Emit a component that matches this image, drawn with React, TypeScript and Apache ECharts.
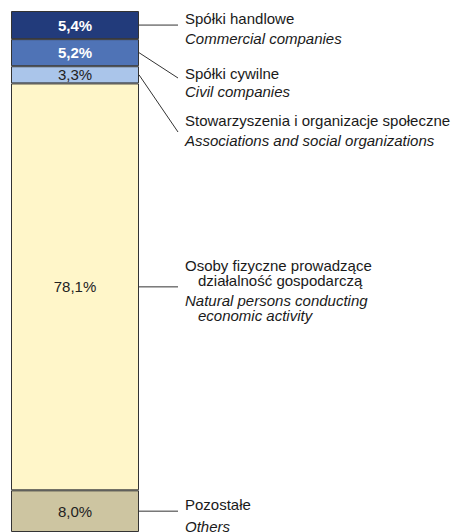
import React, { useEffect, useRef } from "react";
import * as echarts from "echarts";

const categoriesPL: string[][] = [
  ["Spółki handlowe"],
  ["Spółki cywilne"],
  ["Stowarzyszenia i organizacje społeczne"],
  ["Osoby fizyczne prowadzące", "działalność gospodarczą"],
  ["Pozostałe"],
];
const categoriesEN: string[][] = [
  ["Commercial companies"],
  ["Civil companies"],
  ["Associations and social organizations"],
  ["Natural persons conducting", "economic activity"],
  ["Others"],
];
const values = [5.4, 5.2, 3.3, 78.1, 8.0];

const colors = ["#223b7b", "#4f73b6", "#aac5ea", "#fff6c9", "#cdc5a1"];
const labelColors = ["#ffffff", "#ffffff", "#222222", "#222222", "#222222"];
const labelWeights = ["bold", "bold", "normal", "normal", "normal"];

// layout (pixels)
const GRID_LEFT = 11;
const GRID_WIDTH = 128;
const GRID_TOP = 11;
const GRID_HEIGHT = 524;
const TEXT_X = 185;
const INDENT_X = 198;
const LINE_END_X = 178;
// y (middle) of first PL line and first EN line per item, line step inside block
const textY: [number, number][] = [
  [18, 38],
  [73, 91],
  [120, 140],
  [265, 300],
  [504, 526],
];
const LINE_STEP = 15;
// leader line end y (null = horizontal)
const leaderEndY: (number | null)[] = [null, 78, 132, null, null];

const FONT = '"Liberation Sans", Arial, sans-serif';

export default function App() {
  const ref = useRef<HTMLDivElement>(null);
  useEffect(() => {
    if (!ref.current) return;
    const chart = echarts.init(ref.current, null, { renderer: "svg" });
    const fmt = (v: number) => v.toFixed(1).replace(".", ",") + "%";
    chart.setOption({
      animation: false,
      grid: { left: GRID_LEFT, top: GRID_TOP, width: GRID_WIDTH, height: GRID_HEIGHT },
      xAxis: { type: "category", data: [""], show: false },
      yAxis: { type: "value", min: 0, max: 100, inverse: true, show: false },
      series: values.map((v, i) => ({
        type: "bar",
        stack: "total",
        barWidth: "100%",
        data: [v],
        itemStyle: { color: colors[i], borderColor: "#333333", borderWidth: 1 },
        label: {
          show: true,
          position: "inside",
          formatter: () => fmt(v),
          color: labelColors[i],
          fontWeight: labelWeights[i],
          fontSize: 15,
          fontFamily: FONT,
        },
      })),
    });

    const graphics: any[] = [];
    let cum = 0;
    values.forEach((v, i) => {
      const mid = cum + v / 2;
      cum += v;
      const y = chart.convertToPixel({ yAxisIndex: 0 }, mid) as number;
      const x1 = GRID_LEFT + GRID_WIDTH;
      const y2 = leaderEndY[i] == null ? y : (leaderEndY[i] as number);
      graphics.push({
        type: "line",
        shape: { x1, y1: y, x2: LINE_END_X, y2 },
        style: { stroke: "#333333", lineWidth: 1 },
      });
      categoriesPL[i].forEach((t, k) => {
        graphics.push({
          type: "text",
          x: k === 0 ? TEXT_X : INDENT_X,
          y: textY[i][0] + k * LINE_STEP,
          style: {
            text: t,
            fill: "#1a1a1a",
            font: `15px ${FONT}`,
            textAlign: "left",
            textVerticalAlign: "middle",
            verticalAlign: "middle",
          },
        });
      });
      categoriesEN[i].forEach((t, k) => {
        graphics.push({
          type: "text",
          x: k === 0 ? TEXT_X : INDENT_X,
          y: textY[i][1] + k * LINE_STEP,
          style: {
            text: t,
            fill: "#1a1a1a",
            font: `italic 15px ${FONT}`,
            textAlign: "left",
            textVerticalAlign: "middle",
            verticalAlign: "middle",
          },
        });
      });
    });
    chart.setOption({ graphic: graphics });
    return () => chart.dispose();
  }, []);
  return (
    <div
      ref={ref}
      style={{ position: "fixed", left: 0, top: 0, width: 457, height: 532, background: "#ffffff" }}
    />
  );
}
